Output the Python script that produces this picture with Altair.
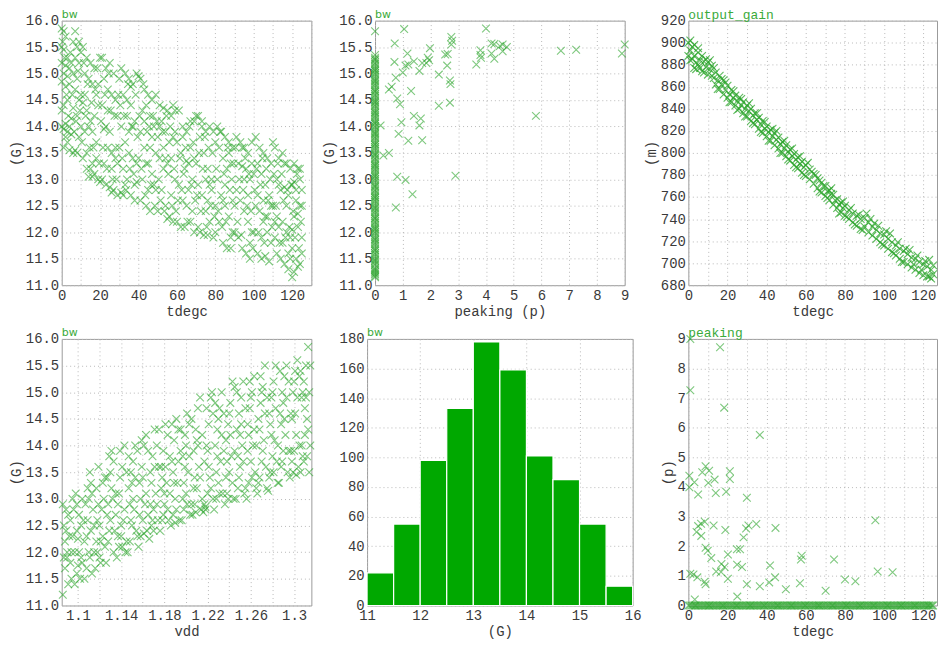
import altair as alt
import pandas as pd

MONO = "Liberation Mono"
SANS = "DejaVu Sans"
GREEN = "#2aa52a"
BAR_GREEN = "#00a800"
XSHAPE = "M-1,-1L1,1M-1,1L1,-1"

# ---- panel 1: bw (G) vs tdegc ----
BW_VS_TDEGC = [
    (0,15.85),(1,15.8),(2,15.7),(0,15.5),(1,15.45),(3,15.3),(0,15.2),(2,15.15),(4,15.1),(1,15.0),(3,14.95),(0,14.85),
    (2,14.75),(4,14.8),(1,14.4),(3,14.5),(0,14.3),(2,14.05),(4,14.0),(3,13.9),(1,13.95),(5,13.85),(4,13.55),(6,13.5),
    (0,14.0),(2,13.8),
    (6,15.6),(8,15.5),(7,15.3),(9,15.2),(6,15.0),(8,14.9),(7,14.7),(9,14.5),(6,14.35),(8,14.2),(10,14.0),(9,13.8),
    (8,13.5),(7,13.55),(10,15.4),(10,14.6),
    (11,15.5),(13,15.3),(15,15.2),(17,15.1),(12,15.0),(14,14.9),(16,14.8),(18,14.6),(11,14.45),(13,14.3),(15,14.1),
    (14,14.0),(12,13.9),(16,13.9),(18,13.7),(13,13.5),(15,13.2),(17,13.1),(19,13.0),(14,13.05),(16,13.3),(18,13.4),
    (20,15.3),(19,14.4),(12,14.6),(17,14.2),
    (21,15.3),(23,15.1),(25,15.2),(27,15.0),(22,14.9),(24,14.7),(26,14.6),(28,14.5),(21,14.4),(23,14.0),(25,13.9),
    (22,13.95),(24,13.6),(26,13.5),(28,13.4),(21,13.0),(23,12.9),(25,12.85),(27,12.8),(29,12.7),(22,13.3),(26,13.2),
    (28,13.6),(30,14.9),(29,14.2),(24,14.3),
    (31,15.1),(33,15.0),(35,14.9),(37,14.8),(39,15.0),(32,14.6),(34,14.5),(36,14.4),(38,14.1),(31,14.0),(33,13.7),
    (35,13.5),(37,13.4),(32,13.2),(34,13.0),(36,12.7),(38,12.6),(31,12.75),(33,12.9),(39,13.3),(35,13.9),(37,14.0),
    (30,13.6),(34,14.2),(39,12.95),
    (41,14.9),(43,14.7),(45,14.6),(47,14.5),(49,14.6),(42,14.3),(44,14.4),(46,14.2),(48,14.0),(41,13.9),(43,13.6),
    (45,13.3),(47,13.1),(49,12.8),(42,13.0),(44,12.5),(46,12.4),(48,12.9),(40,13.4),(45,12.8),(47,13.8),(49,13.5),
    (43,14.1),(41,12.6),
    (51,14.4),(53,14.35),(55,14.3),(57,14.2),(59,14.3),(52,14.1),(54,13.9),(56,13.7),(58,13.8),(51,13.4),(53,13.2),
    (55,13.3),(57,13.4),(59,13.0),(52,12.8),(54,12.5),(56,12.3),(58,12.2),(50,12.4),(55,12.25),(57,12.7),(53,13.6),
    (59,13.9),(51,14.0),
    (61,14.3),(63,14.0),(65,13.9),(67,13.6),(69,14.1),(62,13.5),(64,13.2),(66,13.3),(68,13.0),(61,12.9),(63,12.6),
    (65,12.5),(67,12.2),(69,12.0),(62,12.1),(64,12.1),(66,12.8),(68,12.4),(60,13.7),(70,14.2),(69,13.4),(63,13.8),
    (71,14.2),(73,14.1),(75,13.9),(77,14.0),(79,13.9),(72,13.8),(74,13.5),(76,13.2),(78,13.0),(71,12.9),(73,12.7),
    (75,12.4),(77,12.2),(79,11.9),(72,12.0),(74,11.95),(76,12.6),(78,12.8),(70,13.3),(80,13.7),(75,13.0),(77,12.9),
    (81,14.0),(83,13.9),(85,13.8),(87,13.7),(89,13.6),(82,13.6),(84,13.4),(86,13.2),(88,13.3),(81,13.0),(83,12.7),
    (85,12.5),(87,12.3),(89,12.0),(82,12.2),(84,11.8),(86,11.7),(88,11.9),(80,12.5),(85,12.9),(87,13.5),(89,12.6),
    (91,13.8),(93,13.7),(95,13.6),(97,13.5),(99,13.7),(92,13.3),(94,13.25),(96,13.2),(98,13.0),(91,12.8),(93,12.6),
    (95,12.4),(97,12.2),(99,12.0),(92,11.9),(94,11.7),(96,11.6),(98,11.8),(90,12.5),(95,13.0),(97,12.7),(99,13.3),
    (101,13.8),(103,13.6),(105,13.5),(107,13.4),(109,13.3),(102,13.3),(104,13.1),(106,12.9),(108,12.7),(101,12.5),
    (103,12.4),(105,12.2),(107,12.0),(109,11.8),(102,11.6),(104,11.5),(106,11.55),(108,11.45),(100,12.0),(105,12.6),
    (107,12.3),(109,12.5),(100,13.1),(104,11.9),
    (111,13.6),(113,13.4),(115,13.5),(117,13.3),(119,13.2),(112,13.0),(114,12.8),(116,12.85),(118,12.7),(111,12.2),
    (113,12.1),(115,12.2),(117,12.0),(119,11.9),(112,11.6),(114,11.5),(116,11.4),(118,11.3),(110,12.5),(115,11.8),
    (117,12.5),(119,11.5),(113,12.9),(111,11.9),
    (121,13.3),(123,13.2),(124,13.0),(120,12.9),(122,12.8),(124,12.5),(121,12.3),(123,12.1),(125,11.9),(120,11.7),
    (122,11.5),(124,11.4),(121,11.25),(123,11.35),(120,11.15),(122,12.6),(124,13.2),(125,12.5),
]
BW_VS_TDEGC_MORE = [
    (0.5,15.6),(1.5,15.3),(2.5,14.6),(3.5,14.2),(4.5,15.4),(5.5,14.6),(5,14.15),(6.5,13.9),(7.5,14.1),(8.5,15.05),
    (9.5,14.3),(3,13.7),(1,13.6),(5,15.2),(7,15.8),(9,15.6),
    (10.5,13.7),(11.5,15.2),(12.5,14.2),(13.5,14.8),(14.5,13.6),(15.5,14.45),(16.5,13.6),(17.5,14.7),(18.5,15.1),
    (19.5,13.3),(13,13.2),(16,13.05),(19,14.8),(11,13.4),
    (20.5,14.1),(21.5,13.6),(22.5,14.6),(23.5,13.2),(24.5,15.0),(25.5,14.3),(26.5,13.0),(27.5,14.2),(28.5,13.0),
    (29.5,14.6),(20,12.95),(26,12.75),(29,13.3),
    (30.5,14.4),(31.5,13.4),(32.5,14.2),(33.5,12.8),(34.5,14.8),(35.5,13.2),(36.5,14.0),(37.5,13.1),(38.5,14.6),
    (39.5,13.8),(32,12.7),(36,14.75),(38,12.9),
    (40.5,14.2),(41.5,13.2),(42.5,14.8),(43.5,12.7),(44.5,13.9),(45.5,14.0),(46.5,12.9),(47.5,14.2),(48.5,12.5),
    (49.5,14.1),(40,14.95),(44,13.3),(46,13.6),
    (50.5,13.0),(51.5,12.6),(52.5,13.9),(53.5,12.4),(54.5,14.2),(55.5,13.1),(56.5,14.0),(57.5,12.5),(58.5,13.2),
    (59.5,12.4),(50,13.8),(54,13.4),(58,14.4),
    (60.5,12.6),(61.5,13.4),(62.5,12.8),(63.5,13.1),(64.5,13.6),(65.5,12.2),(66.5,14.0),(67.5,12.9),(68.5,13.7),
    (69.5,12.6),(60,12.2),(65,13.35),(67,14.1),
    (70.5,12.7),(71.5,13.5),(72.5,12.4),(73.5,13.2),(74.5,13.8),(75.5,12.1),(76.5,13.6),(77.5,12.5),(78.5,13.5),
    (79.5,12.3),(71,12.1),(73,14.0),(76,11.95),
    (80.5,13.2),(81.5,12.4),(82.5,13.9),(83.5,12.1),(84.5,13.1),(85.5,12.2),(86.5,13.6),(87.5,12.8),(88.5,13.0),
    (89.5,13.3),(80,12.0),(84,12.6),(88,11.7),
    (90.5,13.6),(91.5,12.2),(92.5,13.0),(93.5,11.95),(94.5,12.8),(95.5,13.4),(96.5,12.5),(97.5,13.1),(98.5,12.4),
    (99.5,11.7),(90,12.0),(94,13.6),(98,11.5),
    (100.5,12.8),(101.5,13.2),(102.5,12.0),(103.5,12.9),(104.5,13.4),(105.5,11.8),(106.5,13.2),(107.5,12.6),
    (108.5,13.0),(109.5,12.1),(102,12.7),(106,12.3),(110,13.7),
    (110.5,13.1),(111.5,12.5),(112.5,13.3),(113.5,11.8),(114.5,13.1),(115.5,12.6),(116.5,11.9),(117.5,12.8),
    (118.5,12.1),(119.5,12.9),(112,12.3),(116,13.3),(118,11.6),
    (120.5,12.4),(121.5,11.9),(122.5,13.1),(123.5,11.7),(124.5,12.2),(125,12.8),(121,12.95),(123,12.35),(125,11.6),
    (120,12.05),
]

# ---- panel 2: bw (G) vs peaking (p) ----
ZERO_PEAK_BW = [11.15,11.2,11.25,11.3,11.38,11.45,11.5,11.58,11.65,11.7,11.78,11.85,11.9,11.98,12.05,12.1,12.18,
                12.25,12.3,12.38,12.45,12.5,12.58,12.65,12.7,12.78,12.85,12.9,12.98,13.05,13.1,13.18,13.25,13.3,
                13.38,13.45,13.5,13.58,13.65,13.7,13.78,13.85,13.9,13.98,14.05,14.1,14.18,14.25,14.3,14.38,14.45,
                14.5,14.58,14.65,14.7,14.78,14.85,14.9,14.98,15.05,15.1,15.18,15.25,15.3,15.35,15.8,
                11.17,11.22,11.28,11.33,11.41,11.47,11.54,11.61,11.67,11.74,11.81,11.87,11.94,12.01,12.07,12.14,
                12.21,12.27,12.34,12.41,12.47,12.54,12.61,12.67,12.74,12.81,12.87,12.94,13.01,13.07,13.14,13.21,
                13.27,13.34,13.41,13.47,13.54,13.61,13.67,13.74,13.81,13.87,13.94,14.01,14.07,14.14,14.21,14.27,
                14.34,14.41,14.47,14.54,14.61,14.67,14.74,14.81,14.87,14.94,15.01,15.07,15.14,15.21,15.27]
PEAK_BW = [
    (1.05,15.84),(4.0,15.85),(0.71,15.57),(2.75,15.69),(2.78,15.62),(2.75,15.55),(1.17,15.38),(1.98,15.48),
    (2.53,15.36),(2.62,15.37),(3.8,15.44),(3.8,15.35),(3.82,15.3),(4.2,15.57),(4.3,15.56),(4.5,15.52),(4.6,15.55),
    (4.6,15.42),(4.75,15.5),(4.2,15.38),(4.3,15.28),(3.65,15.17),(6.7,15.43),(7.25,15.45),(8.9,15.38),(9.0,15.55),
    (0.7,15.22),(1.1,15.15),(1.2,15.17),(1.4,15.23),(1.85,15.2),(1.95,15.25),(1.9,15.3),(1.7,15.2),(1.0,15.02),
    (0.75,14.92),(1.6,15.05),(2.6,15.15),(2.3,14.98),(0.6,14.75),(0.5,14.7),(1.3,14.67),(2.7,14.87),(2.72,14.8),
    (0.8,14.53),(0.9,14.42),(2.3,14.39),(2.7,14.45),(1.4,14.2),(1.65,14.15),(1.6,14.02),(0.95,14.08),(0.85,13.86),
    (0.2,14.02),(5.8,14.2),(1.2,13.73),(1.7,13.74),(0.3,13.45),(0.5,13.5),(0.8,13.05),(1.1,12.99),(2.9,13.07),
    (1.35,12.72),(0.75,12.47),
]

# ---- panel 3: output_gain (m) vs tdegc ----
GAIN_VS_TDEGC = [
    (0,900),(0,888),(1,902),(1,893),(2,896),(2,885),(3,898),(3,888),(4,882),(4,876),(5,891),(5,880),(6,884),(6,877),
    (7,888),(8,883),(8,873),(9,878),(10,882),(10,871),(11,876),(12,870),(12,879),(13,868),(14,873),(14,862),(15,866),
    (16,870),(16,858),(17,862),(18,866),(18,853),(19,857),(20,861),(20,850),(21,853),(22,857),(22,846),(23,850),
    (24,852),(24,843),(25,847),(26,850),(26,840),(27,843),(28,846),(28,836),(29,840),(30,843),(30,833),(31,838),
    (32,840),(32,829),(33,834),(34,836),(34,826),(35,830),(36,832),(36,822),(37,826),(38,829),(38,818),(39,822),
    (40,824),(40,815),(41,819),(42,821),(42,811),(43,815),(44,818),(44,807),(45,812),(46,814),(46,804),(47,808),
    (48,810),(48,800),(49,804),(50,807),(50,797),(51,801),(52,803),(52,793),(53,797),(54,799),(54,789),(55,794),
    (56,796),(56,786),(57,790),(58,792),(58,782),(59,787),(60,789),(60,779),(62,785),(62,776),(64,781),(64,772),
    (66,777),(66,768),(68,773),(68,764),(70,770),(70,761),(72,766),(72,757),(74,762),(74,753),(76,758),(76,750),
    (78,755),(78,746),(80,752),(80,743),(82,748),(82,740),(84,745),(84,737),(86,743),(86,734),(88,740),(88,731),
    (90,741),(90,733),(92,737),(92,728),(94,733),(94,725),(96,730),(96,722),(98,727),(98,719),(100,726),(100,716),
    (102,722),(102,713),(104,719),(104,710),(106,716),(106,707),(108,713),(108,704),(110,711),(110,701),(112,708),
    (112,699),(114,705),(114,696),(116,704),(116,694),(118,701),(118,691),(120,699),(120,689),(122,697),(122,688),
    (124,694),(124,686),(125,698),(125,690),(123,703),(117,707),(113,712),(91,745),(93,740),(31,845),(17,867),
    (9,885),(3,877),(101,729),(97,734),(61,791),(63,783),(67,775),(69,770),(71,765),(73,763),(75,757),(77,753),
    (79,750),(45,820),
    (1,884),(5,895),(7,874),(11,884),(13,877),(15,858),(19,864),(21,846),(23,856),(25,839),(27,849),(29,833),
    (33,827),(35,836),(37,819),(39,828),(41,811),(43,822),(47,800),(49,811),(51,794),(53,804),(55,787),(57,797),
    (59,780),(65,780),(67,765),(71,759),(73,768),(77,745),(79,756),(81,742),(83,750),(85,735),(87,744),(89,730),
    (95,736),(99,717),(103,727),(105,709),(107,719),(109,701),(111,713),(115,699),(119,694),(121,702),(123,688),
]

# ---- panel 4: bw (G) vs vdd ----
BW_VS_VDD = [
    (1.086,11.2),(1.088,11.7),(1.090,12.0),(1.087,12.5),(1.089,12.8),(1.092,12.3),(1.094,11.5),(1.086,12.9),
    (1.091,11.4),(1.093,12.6),(1.095,13.0),(1.088,12.2),(1.090,11.9),(1.094,12.0),
    (1.097,11.4),(1.099,11.6),(1.101,12.0),(1.103,12.5),(1.096,12.8),(1.098,13.1),(1.100,12.25),(1.102,11.5),
    (1.104,13.0),(1.105,12.6),(1.099,12.9),(1.103,11.9),
    (1.106,11.5),(1.108,11.7),(1.110,12.0),(1.112,12.4),(1.107,12.9),(1.109,13.2),(1.111,13.5),(1.113,11.6),
    (1.114,12.8),(1.108,12.3),(1.110,13.0),(1.115,12.0),
    (1.116,11.7),(1.118,12.0),(1.120,12.5),(1.122,12.8),(1.117,13.2),(1.119,13.6),(1.121,11.8),(1.123,12.3),
    (1.124,13.0),(1.118,12.6),(1.125,13.4),(1.120,11.9),
    (1.126,11.8),(1.128,12.2),(1.130,12.6),(1.132,13.0),(1.127,13.4),(1.129,13.8),(1.131,13.9),(1.133,12.0),
    (1.134,12.4),(1.128,12.9),(1.130,13.5),(1.135,13.1),
    (1.136,11.9),(1.138,12.1),(1.140,12.3),(1.142,12.6),(1.137,12.9),(1.139,13.4),(1.141,13.6),(1.143,14.0),
    (1.144,12.0),(1.138,13.1),(1.140,12.5),(1.145,13.5),
    (1.146,12.0),(1.148,12.2),(1.150,12.5),(1.152,12.8),(1.147,13.2),(1.149,13.5),(1.151,13.7),(1.153,14.0),
    (1.154,12.4),(1.148,12.9),(1.150,13.3),(1.155,13.9),
    (1.156,12.1),(1.158,12.3),(1.160,12.6),(1.162,12.9),(1.157,13.3),(1.159,13.6),(1.161,14.0),(1.163,14.2),
    (1.164,12.4),(1.158,13.0),(1.160,13.4),(1.165,12.7),
    (1.166,12.25),(1.168,12.5),(1.170,12.8),(1.172,13.1),(1.167,13.5),(1.169,13.8),(1.171,14.3),(1.173,14.0),
    (1.174,12.6),(1.168,13.3),(1.170,12.4),(1.175,13.6),
    (1.176,12.4),(1.178,12.6),(1.180,12.9),(1.182,13.3),(1.177,13.6),(1.179,13.9),(1.181,14.4),(1.183,14.2),
    (1.184,12.6),(1.178,13.4),(1.180,13.1),(1.185,13.8),
    (1.186,12.5),(1.188,12.7),(1.190,13.0),(1.192,13.3),(1.187,13.7),(1.189,14.1),(1.191,14.5),(1.193,14.3),
    (1.194,12.6),(1.188,13.5),(1.190,12.55),(1.195,13.9),
    (1.196,12.6),(1.198,12.8),(1.200,13.1),(1.202,13.5),(1.197,13.8),(1.199,14.2),(1.201,14.6),(1.203,14.4),
    (1.204,12.7),(1.198,13.3),(1.200,14.0),(1.205,12.9),
    (1.206,12.7),(1.208,12.9),(1.210,13.2),(1.212,13.6),(1.207,13.9),(1.209,14.3),(1.211,14.7),(1.213,14.9),
    (1.214,12.8),(1.208,13.4),(1.210,14.1),(1.215,13.0),
    (1.216,12.75),(1.218,12.85),(1.220,13.1),(1.222,13.4),(1.217,13.7),(1.219,14.0),(1.221,14.4),(1.223,14.9),
    (1.224,15.0),(1.218,12.8),(1.220,13.9),(1.225,14.6),
    (1.226,12.8),(1.228,13.0),(1.230,13.3),(1.232,13.7),(1.227,14.0),(1.229,14.3),(1.231,14.7),(1.233,15.0),
    (1.234,13.1),(1.228,13.5),(1.230,14.5),(1.235,13.9),
    (1.236,12.9),(1.238,13.1),(1.240,13.5),(1.242,13.8),(1.237,14.1),(1.239,14.4),(1.241,14.8),(1.243,15.2),
    (1.244,13.0),(1.238,13.7),(1.240,14.6),(1.245,15.1),
    (1.246,13.0),(1.248,13.2),(1.250,13.6),(1.252,14.0),(1.247,14.3),(1.249,14.6),(1.251,14.9),(1.253,15.2),
    (1.254,13.1),(1.248,13.8),(1.250,14.2),(1.255,14.7),
    (1.256,13.0),(1.258,13.3),(1.260,13.7),(1.262,14.0),(1.257,14.4),(1.259,14.7),(1.261,15.0),(1.263,15.3),
    (1.264,13.5),(1.258,14.2),(1.260,14.9),(1.265,13.2),
    (1.266,13.1),(1.268,13.4),(1.270,13.7),(1.272,14.1),(1.267,14.5),(1.269,14.8),(1.271,15.1),(1.273,15.5),
    (1.274,13.6),(1.268,14.3),(1.270,15.0),(1.275,13.2),
    (1.276,13.15),(1.278,13.5),(1.280,13.8),(1.282,14.1),(1.277,14.6),(1.279,14.9),(1.281,15.2),(1.283,15.5),
    (1.284,13.7),(1.278,14.4),(1.280,15.0),(1.285,13.3),
    (1.286,13.3),(1.288,13.6),(1.290,13.9),(1.292,14.2),(1.287,14.6),(1.289,15.0),(1.291,15.3),(1.293,15.5),
    (1.294,13.5),(1.288,14.4),(1.290,14.8),(1.295,13.9),
    (1.296,13.4),(1.298,13.7),(1.300,13.9),(1.302,14.2),(1.297,14.6),(1.299,15.0),(1.301,15.4),(1.303,15.6),
    (1.304,13.6),(1.298,14.5),(1.300,15.2),(1.305,14.0),
    (1.306,13.5),(1.308,13.8),(1.310,14.2),(1.312,14.5),(1.307,14.9),(1.309,15.2),(1.311,15.5),(1.313,15.85),
    (1.314,13.5),(1.308,15.0),(1.310,14.7),(1.314,15.0),(1.312,13.8),(1.306,15.4),
]
BW_VS_VDD_MORE = [
    (1.087,11.9),(1.089,12.4),(1.091,12.7),(1.093,11.8),(1.095,12.3),(1.097,12.0),(1.099,12.4),(1.101,12.7),
    (1.100,11.75),
    (1.104,11.8),(1.106,12.2),(1.109,12.6),(1.111,11.9),(1.113,13.1),(1.115,12.5),(1.117,12.2),(1.119,12.9),
    (1.112,13.3),
    (1.121,12.2),(1.123,13.3),(1.125,12.1),(1.127,12.7),(1.129,12.4),(1.131,13.2),(1.133,13.7),(1.135,12.7),
    (1.137,12.3),(1.139,13.9),
    (1.141,12.1),(1.143,12.8),(1.145,12.2),(1.147,13.8),(1.149,12.6),(1.151,13.0),(1.153,13.4),(1.155,12.3),
    (1.157,12.7),(1.159,14.1),
    (1.161,12.35),(1.163,13.1),(1.165,13.9),(1.167,12.9),(1.169,12.6),(1.171,13.6),(1.173,12.9),(1.175,14.3),
    (1.177,13.2),(1.179,12.7),
    (1.181,13.6),(1.183,12.8),(1.185,13.1),(1.187,14.4),(1.189,13.3),(1.191,12.8),(1.193,13.7),(1.195,14.3),
    (1.197,13.0),(1.199,13.6),
    (1.201,12.9),(1.203,13.8),(1.205,14.5),(1.207,13.2),(1.209,12.75),(1.211,14.0),(1.213,13.4),(1.215,14.2),
    (1.217,12.9),(1.219,14.7),
    (1.221,13.6),(1.223,13.2),(1.225,13.0),(1.227,14.8),(1.229,13.8),(1.231,13.1),(1.233,14.2),(1.235,14.6),
    (1.237,13.4),(1.239,13.0),
    (1.241,14.2),(1.243,13.3),(1.245,13.9),(1.247,15.0),(1.249,13.4),(1.251,14.4),(1.253,13.7),(1.255,13.2),
    (1.257,13.9),(1.259,15.2),
    (1.261,13.4),(1.263,14.3),(1.265,14.0),(1.267,13.3),(1.269,15.3),(1.271,13.9),(1.273,14.6),(1.275,14.9),
    (1.277,13.4),(1.279,14.2),
    (1.281,13.5),(1.283,14.7),(1.285,14.0),(1.287,15.4),(1.289,13.7),(1.291,14.5),(1.293,14.9),(1.295,15.2),
    (1.297,13.9),(1.299,13.5),
    (1.301,14.6),(1.303,14.9),(1.305,15.3),(1.307,14.0),(1.309,13.7),(1.311,14.9),(1.313,14.3),(1.315,15.5),
    (1.315,14.0),(1.302,13.45),
]

# ---- panel 5: histogram of bw (G) ----
HIST_LO = [11.0, 11.5, 12.0, 12.5, 13.0, 13.5, 14.0, 14.5, 15.0, 15.5]
HIST_HI = [11.5, 12.0, 12.5, 13.0, 13.5, 14.0, 14.5, 15.0, 15.5, 16.0]
HIST_COUNT = [22, 55, 98, 133, 178, 159, 101, 85, 55, 13]

# ---- panel 6: peaking (p) vs tdegc ----
ZERO_PEAK_TDEGC = [0,1.5,3,4,5.5,7,8.5,10,11,12.5,14,15.5,17,18,19.5,21,22.5,24,25,26.5,28,29.5,31,32,33.5,35,
                   36.5,38,39,40.5,42,43.5,45,46,47.5,49,50.5,52,53,54.5,56,57.5,59,60,61.5,63,64.5,66,67,68.5,
                   70,71.5,73,74,75.5,77,78.5,80,81,82.5,84,85.5,87,88,89.5,91,92.5,94,95,96.5,98,99.5,101,102,
                   103.5,105,106.5,108,109,110.5,112,113.5,115,116,117.5,119,120.5,122,123,124.5,125,
                   0.7,2.2,3.6,4.8,6.2,7.8,9.2,10.6,11.8,13.2,14.8,16.2,17.6,18.8,20.2,21.8,23.2,24.6,25.8,27.2,
                   28.8,30.2,31.6,32.8,34.2,35.8,37.2,38.6,39.8,41.2,42.8,44.2,45.6,46.8,48.2,49.8,51.2,52.6,
                   53.8,55.2,56.8,58.2,59.6,60.8,62.2,63.8,65.2,66.6,67.8,69.2,70.8,72.2,73.6,74.8,76.2,77.8,
                   79.2,80.6,81.8,83.2,84.8,86.2,87.6,88.8,90.2,91.8,93.2,94.6,95.8,97.2,98.8,100.2,101.6,102.8,
                   104.2,105.8,107.2,108.6,109.8,111.2,112.8,114.2,115.6,116.8,118.2,119.8,121.2,122.6,123.8]
PEAK_VS_TDEGC = [
    (1,9.0),(16.2,8.72),(1,7.27),(18.3,6.68),(36.5,5.76),(8.8,4.7),(10.6,4.55),(7.1,4.5),(21.2,4.53),(21.2,4.27),
    (0.5,4.38),(3.1,4.16),(13.4,4.25),(10.2,4.14),(0.5,3.99),(5.0,3.75),(14.0,3.8),(19.3,3.84),(29.9,3.64),
    (8.4,2.83),(6.5,2.76),(5.0,2.68),(4.2,2.48),(6.6,2.35),(12.9,2.7),(18.9,2.55),(29.5,2.6),(30.7,2.7),(34.7,2.75),
    (44.5,2.62),(28.2,2.3),(95.5,2.88),(8.8,1.95),(9.9,1.85),(11.7,1.6),(20.2,1.72),(24.8,1.9),(26.4,1.9),
    (16.9,1.4),(18.5,1.3),(24.9,1.38),(27.4,1.3),(14.2,1.15),(16.7,1.13),(1.0,1.07),(2.6,1.05),(4.6,0.95),
    (8.3,0.8),(8.8,0.72),(20.2,0.9),(29.9,0.72),(36.5,0.65),(41.3,0.78),(44.3,0.95),(41.7,1.35),(49.8,0.55),
    (57.0,0.75),(57.5,1.55),(57.9,1.68),(70.1,0.5),(74.4,1.55),(80.0,0.88),(85.3,0.82),(96.7,1.15),(104.3,1.12),
    (25.0,0.3),(3.3,0.2),
]


def title(text, font, size, offset):
    return alt.TitleParams(text, anchor="start", frame="group", font=font, fontSize=size,
                           color="#3aaa3a", fontWeight="normal", offset=offset)


def bw_title():
    return title("bw", SANS, 11, -6)


def scatter(df, xf, yf, xdom, ydom, xaxis, yaxis, ttl, w, h, size=60, opacity=0.6):
    return alt.Chart(df).mark_point(
        shape=XSHAPE, filled=False, size=size, strokeWidth=1.1, color=GREEN, opacity=opacity, clip=False
    ).encode(
        x=alt.X(f"{xf}:Q", scale=alt.Scale(domain=xdom, nice=False, zero=False), axis=xaxis),
        y=alt.Y(f"{yf}:Q", scale=alt.Scale(domain=ydom, nice=False, zero=False), axis=yaxis),
    ).properties(width=w, height=h, title=ttl)


T_VALUES_130 = list(range(0, 131, 10))
T_VALUES_127 = list(range(0, 121, 10))
EVERY20 = "datum.value % 20 == 0 ? datum.label : ''"
G_VALUES = [11.0, 11.5, 12.0, 12.5, 13.0, 13.5, 14.0, 14.5, 15.0, 15.5, 16.0]

W = 251
H = 266
H2 = 268

df1 = pd.DataFrame(BW_VS_TDEGC + BW_VS_TDEGC_MORE, columns=["tdegc", "bw"])
p1 = scatter(df1, "tdegc", "bw", [0, 130], [11, 16],
             alt.Axis(values=T_VALUES_130, labelExpr=EVERY20, title="tdegc"),
             alt.Axis(values=G_VALUES, format=".1f", title="(G)"),
             bw_title(), W, H)

df2 = pd.DataFrame([(0.0, b) for b in ZERO_PEAK_BW] + PEAK_BW, columns=["peaking", "bw"])
p2 = scatter(df2, "peaking", "bw", [0, 9], [11, 16],
             alt.Axis(values=list(range(0, 10)), title="peaking  (p)"),
             alt.Axis(values=G_VALUES, format=".1f", title="(G)"),
             bw_title(), W, H)

df3 = pd.DataFrame(GAIN_VS_TDEGC, columns=["tdegc", "gain"])
p3 = scatter(df3, "tdegc", "gain", [0, 127], [680, 920],
             alt.Axis(values=T_VALUES_127, labelExpr=EVERY20, title="tdegc"),
             alt.Axis(values=list(range(680, 921, 20)), title="(m)"),
             title("output_gain", MONO, 13, -8), 250, H, size=60, opacity=0.75)

df4 = pd.DataFrame(BW_VS_VDD + BW_VS_VDD_MORE, columns=["vdd", "bw"])
VDD_VALUES = [1.1, 1.12, 1.14, 1.16, 1.18, 1.2, 1.22, 1.24, 1.26, 1.28, 1.3]
p4 = scatter(df4, "vdd", "bw", [1.085, 1.316], [11, 16],
             alt.Axis(values=VDD_VALUES, title="vdd",
                      labelExpr="round(datum.value*100) % 4 == 2 ? format(datum.value, '~g') : ''"),
             alt.Axis(values=G_VALUES, format=".1f", title="(G)"),
             bw_title(), W, H2)

df5 = pd.DataFrame({"lo": HIST_LO, "hi": HIST_HI, "count": HIST_COUNT})
p5 = alt.Chart(df5).mark_rect(color=BAR_GREEN, stroke="white", strokeWidth=1.2).encode(
    x=alt.X("lo:Q", scale=alt.Scale(domain=[11, 16], nice=False, zero=False),
            axis=alt.Axis(values=[11, 11.5, 12, 12.5, 13, 13.5, 14, 14.5, 15, 15.5, 16], format="d",
                          labelExpr="datum.value % 1 == 0 ? datum.label : ''", title="(G)")),
    x2="hi:Q",
    y=alt.Y("count:Q", scale=alt.Scale(domain=[0, 180], nice=False),
            axis=alt.Axis(values=list(range(0, 181, 20)), title=None)),
    y2=alt.datum(0),
).properties(width=267, height=H2, title=bw_title())

df6 = pd.DataFrame([(t, 0.0) for t in ZERO_PEAK_TDEGC] + PEAK_VS_TDEGC, columns=["tdegc", "peaking"])
p6 = scatter(df6, "tdegc", "peaking", [0, 127], [0, 9],
             alt.Axis(values=T_VALUES_127, labelExpr=EVERY20, title="tdegc"),
             alt.Axis(values=list(range(0, 10)), title="(p)"),
             title("peaking", MONO, 13, -8), 250, H2)

row1 = alt.hconcat(p1, p2, p3, spacing=64, bounds="flush")
row2 = alt.hconcat(p4, p5, p6, spacing=56, bounds="flush")

chart = alt.vconcat(row1, row2, spacing=7).properties(
    padding={"left": 0, "top": -2, "right": 0, "bottom": 0}
).configure_view(
    stroke="#9a9a9a", strokeWidth=1
).configure_axis(
    domain=False, ticks=False, grid=True, gridColor="#b8b8b8", gridDash=[1, 3], gridWidth=1,
    labelFont=MONO, labelFontSize=14, labelColor="#3a3a3a", labelPadding=3, labelFlush=False,
    labelOverlap=False, titleFont=MONO, titleFontSize=14, titleFontWeight="normal",
    titleColor="#3a3a3a", titlePadding=2,
)

chart.save("out.html", embed_options={"renderer": "svg", "actions": False})
